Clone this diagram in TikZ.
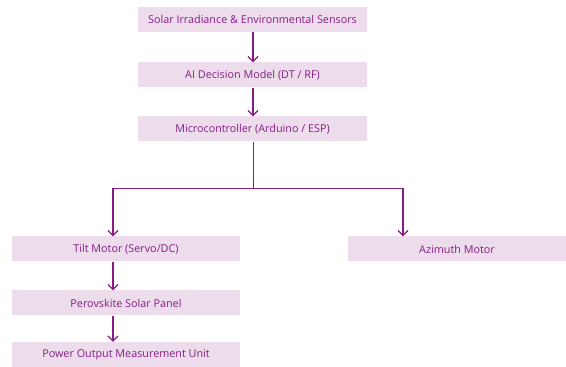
\documentclass[tikz,border=0pt]{standalone}
\usepackage{fontspec}
\setmainfont{Open Sans}
\usepackage{tikz}
\usetikzlibrary{calc,arrows.meta}
\definecolor{boxfill}{RGB}{237,221,236}
\definecolor{plum}{RGB}{134,28,132}

\begin{document}
\begin{tikzpicture}[x=1pt,y=1pt,
        block/.style = {fill=boxfill,text=plum,minimum height=25pt,inner sep=0pt,font=\fontsize{10.8}{12}\selectfont},
        flow/.style  = {draw=plum,line width=1.4pt,-{Straight Barb[length=5pt,width=10pt,line width=1.2pt]}},
        wire/.style  = {draw=plum,line width=0.8pt}]
        \useasboundingbox (0,0) rectangle (566,367);

        \node[block,minimum width=229pt] (sens) at (252.5,347.5) {Solar Irradiance \& Environmental Sensors};
        \node[block,minimum width=229pt] (ai)   at (252.5,292)   {AI Decision Model (DT / RF)};
        \node[block,minimum width=229pt] (mcu)  at (252.5,238)   {Microcontroller (Arduino / ESP)};

        \node[block,minimum width=228pt] (tilt) at (126,118)  {Tilt Motor (Servo/DC)};
        \node[block,minimum width=228pt] (pv)   at (126,64)   {Perovskite Solar Panel};
        \node[block,minimum width=228pt] (pwr)  at (126,12.5) {Power Output Measurement Unit};

        \node[block,minimum width=218pt] (azi)  at (457,118)  {Azimuth Motor};

        \coordinate (split)  at (253,179);
        \coordinate (tiltin) at (113,179);
        \coordinate (aziin)  at (403,179);

        \draw[flow] (sens.south -| split) -- (ai.north -| split);
        \draw[flow] (ai.south -| split)   -- (mcu.north -| split);

        \draw[wire] (mcu.south -| split) -- (split);
        \draw[wire] (tiltin) -- (aziin);
        \draw[flow] (tiltin) -- (tilt.north -| tiltin);
        \draw[flow] (aziin)  -- (azi.north -| aziin);

        \draw[flow] (tilt.south -| tiltin) -- (pv.north -| tiltin);
        \draw[flow] (pv.south -| tiltin)   -- (pwr.north -| tiltin);
\end{tikzpicture}
\end{document}
